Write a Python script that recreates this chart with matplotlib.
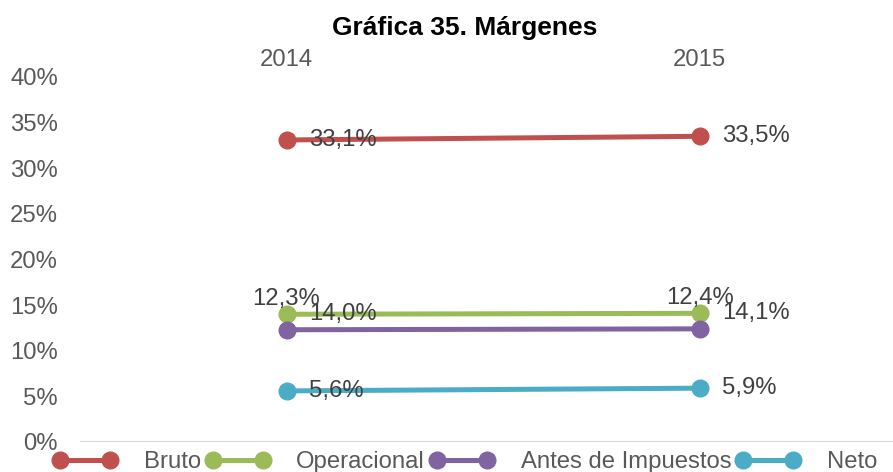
import matplotlib
matplotlib.use("Agg")
import matplotlib.pyplot as plt

plt.rcParams['font.family'] = ['Liberation Sans', 'DejaVu Sans']

years = ['2014', '2015']
series = ['Bruto', 'Operacional', 'Antes de Impuestos', 'Neto']
bruto = [33.1, 33.5]
operacional = [14.0, 14.1]
antes_impuestos = [12.3, 12.4]
neto = [5.6, 5.9]
colors = ['#C0504D', '#9BBB59', '#8064A2', '#4BACC6']
yticks = [0, 5, 10, 15, 20, 25, 30, 35, 40]

fs = 17.2

fig = plt.figure(figsize=(8.93, 4.72), dpi=100)
ax = fig.add_axes([80 / 893, 30 / 472, 826 / 893, 365 / 472])

x = list(range(len(years)))
values = [bruto, operacional, antes_impuestos, neto]
for name, vals, c in zip(series, values, colors):
    ax.plot(x, vals, color=c, lw=3.6, marker='o', markersize=12,
            solid_capstyle='round', label=name, clip_on=False, zorder=3)

# data labels: right of the point, except Antes de Impuestos which sits above
for name, vals in zip(series, values):
    for xi, v in zip(x, vals):
        txt = ('%.1f%%' % v).replace('.', ',')
        if name == 'Antes de Impuestos':
            ax.annotate(txt, (xi, v), xytext=(0, 22), textcoords='offset points',
                        ha='center', va='center', fontsize=fs, color='#404040', zorder=4)
        else:
            ax.annotate(txt, (xi, v), xytext=(16, 0), textcoords='offset points',
                        ha='left', va='center', fontsize=fs, color='#404040', zorder=4)

ax.set_xlim(-0.5, 1.5)
ax.set_ylim(0, 40)
ax.axhline(0, color='#D9D9D9', lw=1.5, zorder=1)

ax.set_yticks(yticks)
ax.set_yticklabels(['%d%%' % t for t in yticks])
ax.set_xticks(x)
ax.set_xticklabels(years)
ax.xaxis.tick_top()
ax.tick_params(axis='y', length=0, pad=16, labelsize=fs, labelcolor='#595959')
ax.tick_params(axis='x', length=0, pad=4, labelsize=fs, labelcolor='#595959')
for s in ax.spines.values():
    s.set_visible(False)

fig.text(465 / 893, 1 - 28 / 472, 'Gráfica 35. Márgenes', ha='center', va='center',
         fontsize=19, fontweight='bold', color='black')

fig.legend(loc='center', bbox_to_anchor=(465 / 893, 10 / 472), ncol=4, frameon=False,
           fontsize=fs, labelcolor='#595959', numpoints=2, handlelength=2.7,
           handletextpad=1.1, columnspacing=0.2, borderpad=0, borderaxespad=0)

fig.savefig('out.png', dpi=100)
